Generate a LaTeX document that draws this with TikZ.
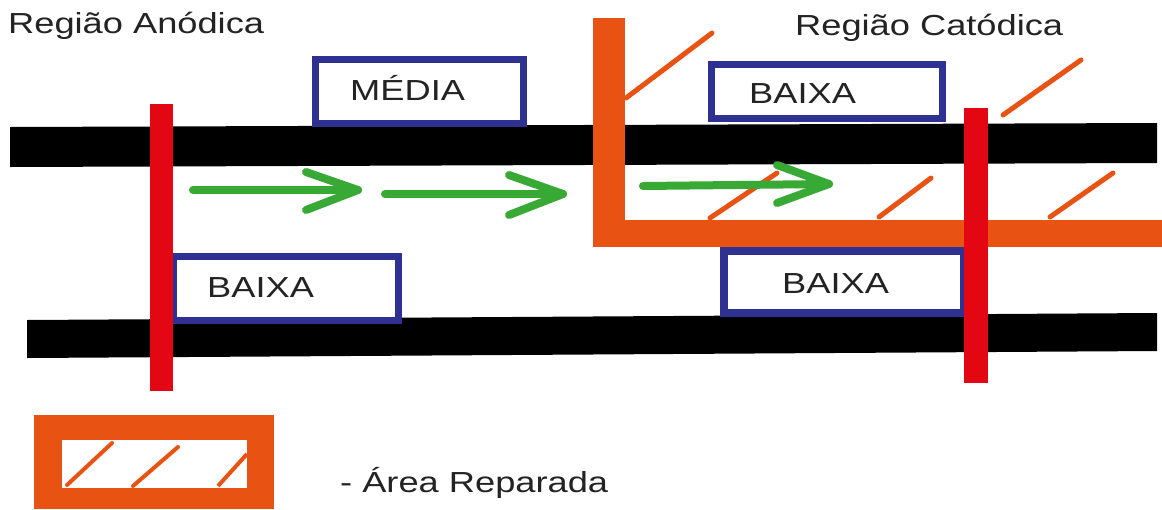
\documentclass[tikz,border=0pt]{standalone}
\usepackage{fontspec}
\newfontfamily\lblfont[FakeStretch=1.25]{Liberation Sans}
\definecolor{redbar}{RGB}{227,6,19}
\definecolor{orng}{RGB}{232,83,20}
\definecolor{bluebox}{RGB}{46,49,146}
\definecolor{grn}{RGB}{57,169,53}
\definecolor{txt}{RGB}{35,35,35}
\begin{document}
\begin{tikzpicture}[x=1pt,y=-1pt,
  barfill/.style={fill=black},
  redfill/.style={fill=redbar},
  orfill/.style={fill=orng},
  boxline/.style={draw=bluebox,line width=7pt},
  hatchline/.style={draw=orng,line width=5pt,line cap=round},
  garrow/.style={draw=grn,line width=8pt,line cap=round,line join=round},
  txtlabel/.style={font=\lblfont\fontsize{29}{34}\selectfont,text=txt,anchor=base west,inner sep=0pt}]
\useasboundingbox[fill=white] (0,0) rectangle (1162,509);

% black bars
\fill[barfill] (10,127) -- (1157,123) -- (1157,163) -- (10,167) -- cycle;
\fill[barfill] (27,320) -- (1157,313) -- (1157,351) -- (27,358) -- cycle;

% blue boxes
\draw[boxline] (315.5,59.5) rectangle (523.5,123.5);
\draw[boxline] (711.5,64.5) rectangle (942.5,118.5);
\draw[boxline] (173.5,256.5) rectangle (398.5,320.5);
\draw[boxline,line width=8pt] (724,251) rectangle (964,313);

% orange L (repaired area)
\fill[orfill] (593,18) rectangle (625,247);
\fill[orfill] (593,220) rectangle (1162,247);

% hatch lines
\draw[hatchline] (626,98) -- (712,33);
\draw[hatchline] (1003,115) -- (1081,60);
\draw[hatchline] (710,218) -- (777,173);
\draw[hatchline] (879,217) -- (931,178);
\draw[hatchline] (1050,217) -- (1113,173);

% green arrows
\coordinate (a1s) at (193,190); \coordinate (a1e) at (358,190);
\coordinate (a1u) at (306,172); \coordinate (a1d) at (306,210);
\coordinate (a2s) at (385,194); \coordinate (a2e) at (563,194);
\coordinate (a2u) at (509,175); \coordinate (a2d) at (509,215);
\coordinate (a3s) at (643,186); \coordinate (a3e) at (829,184);
\coordinate (a3u) at (777,165); \coordinate (a3d) at (777,203);
\draw[garrow] (a1s) -- (a1e);
\draw[garrow] (a1u) -- (a1e) -- (a1d);
\draw[garrow] (a2s) -- (a2e);
\draw[garrow] (a2u) -- (a2e) -- (a2d);
\draw[garrow] (a3s) -- (a3e);
\draw[garrow] (a3u) -- (a3e) -- (a3d);

% red bars
\fill[redfill] (150,104) rectangle (173,391);
\fill[redfill] (964,108) rectangle (988,383);

% legend
\fill[orfill] (34,415) rectangle (274,509);
\fill[white] (62,440) rectangle (247,488);
\draw[hatchline,line width=4pt] (67,485) -- (112,443);
\draw[hatchline,line width=4pt] (133,486) -- (178,447);
\draw[hatchline,line width=4pt,line cap=butt] (218,486) -- (247,454);

% texts
\node[txtlabel] (anod) at (8,33) {Região Anódica};
\node[txtlabel] (catod) at (795,35) {Região Catódica};
\node[txtlabel] (media) at (350,100) {MÉDIA};
\node[txtlabel] (baixa1) at (749,103) {BAIXA};
\node[txtlabel] (baixa2) at (207,297) {BAIXA};
\node[txtlabel] (baixa3) at (782,293) {BAIXA};
\node[txtlabel] (legend) at (340,492) {- Área Reparada};
\end{tikzpicture}
\end{document}
